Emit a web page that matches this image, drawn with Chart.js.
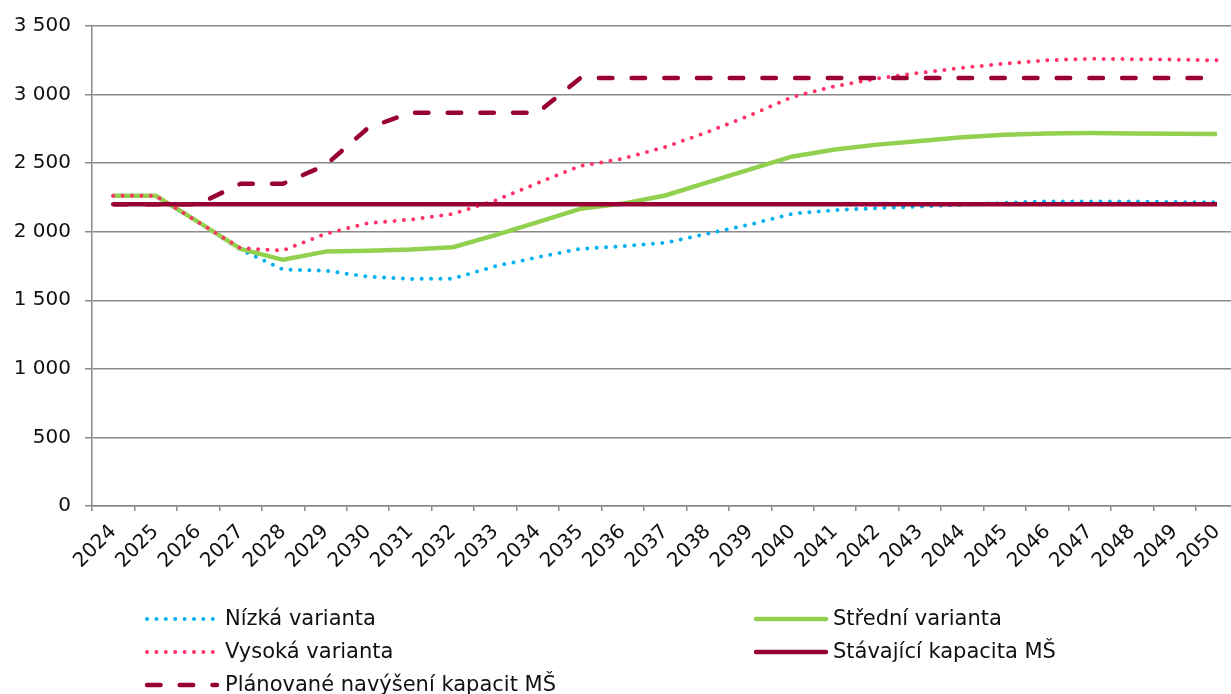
<!DOCTYPE html>
<html lang="cs">
<head>
    <meta charset="UTF-8">
    <title>Kapacita MŠ</title>
    <script src="https://cdn.jsdelivr.net/npm/chart.js"></script>
    <style>
        html, body { margin: 0; padding: 0; background: #fff; overflow: hidden; }
        /* plot area runs past the right edge, like the source picture */
        #wrap { position: relative; width: 1243px; height: 694px; }
    </style>
</head>
<body>
    <div id="wrap"><canvas id="chart"></canvas></div>
    <script>
        const years = ['2024','2025','2026','2027','2028','2029','2030','2031','2032','2033','2034','2035','2036','2037','2038','2039','2040','2041','2042','2043','2044','2045','2046','2047','2048','2049','2050'];
        const nizka = [2262, 2262, 2070, 1870, 1724, 1716, 1672, 1656, 1658, 1748, 1814, 1875, 1894, 1919, 1985, 2053, 2131, 2158, 2172, 2184, 2196, 2211, 2221, 2221, 2220, 2216, 2214];
        const stredni = [2262, 2262, 2072, 1875, 1795, 1855, 1862, 1870, 1887, 1975, 2070, 2167, 2205, 2264, 2360, 2455, 2549, 2600, 2635, 2662, 2688, 2707, 2717, 2720, 2717, 2714, 2712];
        const vysoka = [2262, 2262, 2070, 1880, 1863, 1985, 2062, 2089, 2130, 2228, 2355, 2479, 2532, 2617, 2727, 2849, 2983, 3061, 3117, 3158, 3195, 3226, 3250, 3261, 3258, 3255, 3250];
        const stavajici = [2200, 2200, 2200, 2200, 2200, 2200, 2200, 2200, 2200, 2200, 2200, 2200, 2200, 2200, 2200, 2200, 2200, 2200, 2200, 2200, 2200, 2200, 2200, 2200, 2200, 2200, 2200];
        const planovane = [2200, 2200, 2200, 2350, 2350, 2485, 2756, 2868, 2868, 2868, 2868, 3120, 3120, 3120, 3120, 3120, 3120, 3120, 3120, 3120, 3120, 3120, 3120, 3120, 3120, 3120, 3120];
        const seriesNames = ['Nízká varianta', 'Střední varianta', 'Vysoká varianta', 'Stávající kapacita MŠ', 'Plánované navýšení kapacit MŠ'];
        const yTicks = [0, 500, 1000, 1500, 2000, 2500, 3000, 3500];

        const FONT = "'DejaVu Sans', Verdana, sans-serif";
        const gridColor = '#8a8a8a';
        const dotted = [0, 9.4];

        function fmt(v) {
            return String(v).replace(/\B(?=(\d{3})+(?!\d))/g, ' ');
        }

        // legend in two columns below the chart, samples drawn with the dataset styles
        const legendSpots = [
            { x0: 147, x1: 217, tx: 225, y: 619 },
            { x0: 756, x1: 826, tx: 833, y: 619 },
            { x0: 147, x1: 217, tx: 225, y: 652 },
            { x0: 756, x1: 826, tx: 833, y: 652 },
            { x0: 147, x1: 217, tx: 225, y: 685 }
        ];
        const gridLegend = {
            id: 'gridLegend',
            afterDraw(chart) {
                const ctx = chart.ctx;
                chart.data.datasets.forEach((ds, i) => {
                    const p = legendSpots[i];
                    ctx.save();
                    ctx.strokeStyle = ds.borderColor;
                    ctx.lineWidth = ds.borderWidth;
                    ctx.lineCap = 'round';
                    ctx.setLineDash(ds.borderDash || []);
                    ctx.beginPath();
                    ctx.moveTo(p.x0, p.y);
                    ctx.lineTo(p.x1, p.y);
                    ctx.stroke();
                    ctx.setLineDash([]);
                    ctx.fillStyle = '#111';
                    ctx.font = '21px ' + FONT;
                    ctx.textBaseline = 'middle';
                    ctx.fillText(ds.label, p.tx, p.y + 1);
                    ctx.restore();
                });
            }
        };

        new Chart(document.getElementById('chart'), {
            type: 'line',
            data: {
                labels: years,
                datasets: [
                    { label: seriesNames[0], data: nizka, borderColor: '#00b0f0', borderWidth: 4, borderDash: dotted, borderCapStyle: 'round', order: 5 },
                    { label: seriesNames[1], data: stredni, borderColor: '#92d050', borderWidth: 4.5, order: 4 },
                    { label: seriesNames[2], data: vysoka, borderColor: '#ff3366', borderWidth: 4, borderDash: dotted, borderCapStyle: 'round', order: 3 },
                    { label: seriesNames[3], data: stavajici, borderColor: '#990033', borderWidth: 4.5, order: 2 },
                    { label: seriesNames[4], data: planovane, borderColor: '#990033', borderWidth: 4.5, borderDash: [13.5, 19.2], borderCapStyle: 'round', order: 1 }
                ]
            },
            options: {
                responsive: true,
                maintainAspectRatio: false,
                animation: false,
                layout: { padding: { top: 26, left: 0, right: 1, bottom: 0 } },
                elements: {
                    point: { radius: 0 },
                    line: { tension: 0, borderJoinStyle: 'round' }
                },
                plugins: {
                    legend: { display: false },
                    tooltip: { enabled: false }
                },
                scales: {
                    x: {
                        offset: true,
                        grid: { offset: true, drawOnChartArea: false, drawTicks: true, tickLength: 5, color: gridColor, lineWidth: 1.5 },
                        border: { color: gridColor, width: 1.5 },
                        ticks: {
                            autoSkip: false, maxRotation: 45, minRotation: 45, padding: 9,
                            color: '#111', font: { family: FONT, size: 20 }
                        },
                        afterFit(scale) { scale.height = 694 - 506; }
                    },
                    y: {
                        min: 0, max: 3500,
                        afterBuildTicks(scale) { scale.ticks = yTicks.map(v => ({ value: v })); },
                        grid: { color: gridColor, lineWidth: 1.5, tickLength: 7 },
                        border: { color: gridColor, width: 1.5 },
                        ticks: {
                            padding: 14, color: '#111', font: { family: FONT, size: 20 },
                            callback: v => fmt(v)
                        },
                        afterFit(scale) { scale.width = 92; }
                    }
                }
            },
            plugins: [gridLegend]
        });
    </script>
</body>
</html>
